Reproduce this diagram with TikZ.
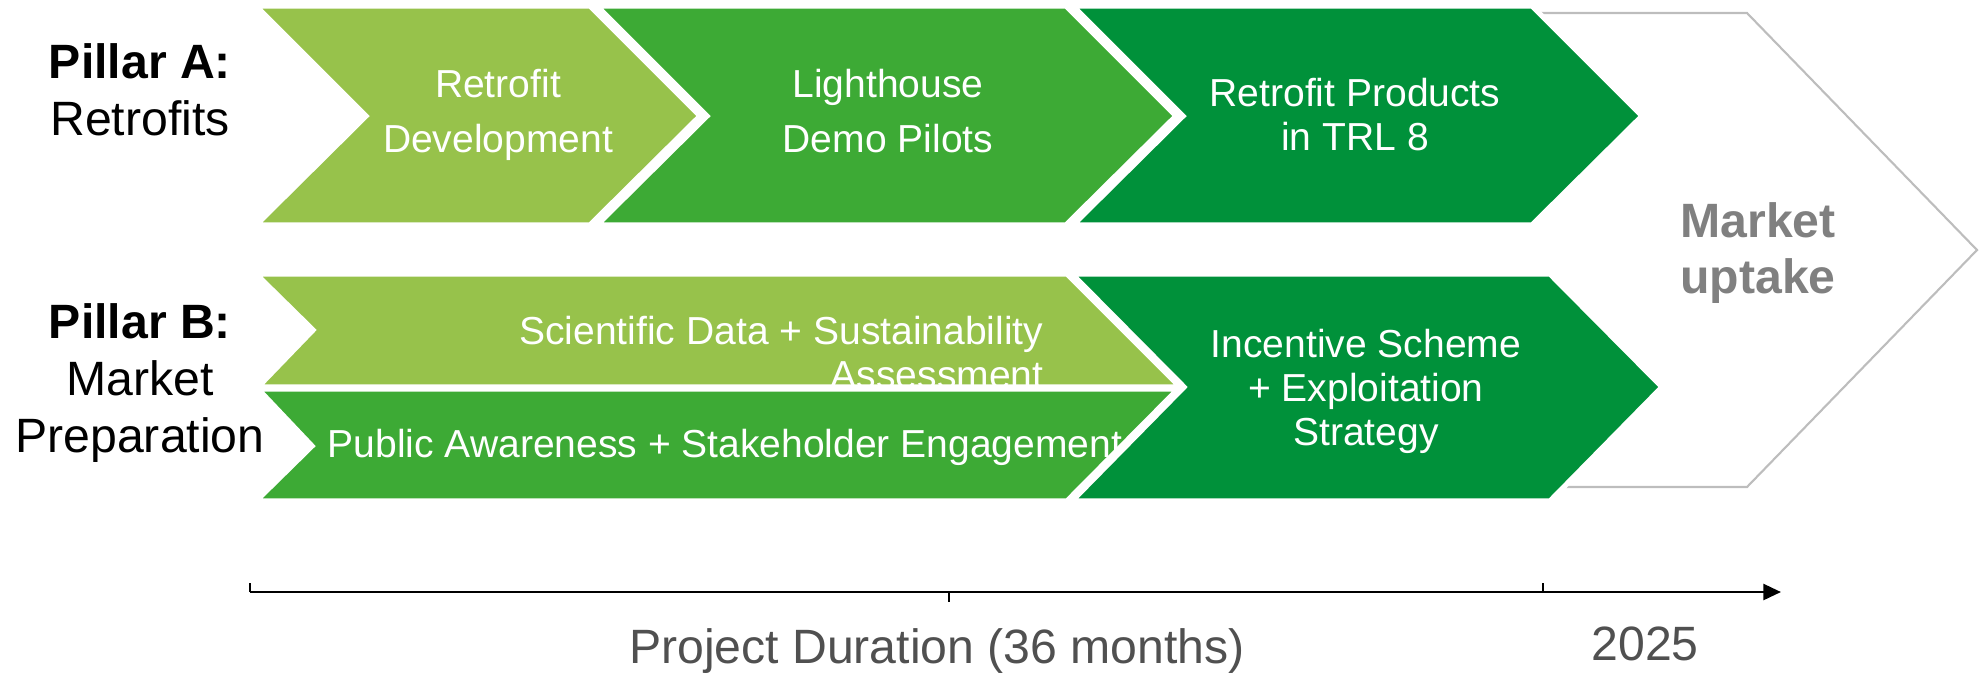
\documentclass[tikz,border=0pt]{standalone}
\usepackage{fontspec}
\setmainfont{Liberation Sans}
\usetikzlibrary{arrows.meta}

\definecolor{lightgreen}{HTML}{97C24B}
\definecolor{midgreen}{HTML}{3DAA35}
\definecolor{darkgreen}{HTML}{00913A}
\definecolor{uptakegray}{HTML}{BDBDBD}
\definecolor{uptaketext}{HTML}{808080}
\definecolor{axistext}{HTML}{505050}

\tikzset{
  stage/.style={draw=white, line width=1.5pt},
  stagetext/.style={text=white, align=center, anchor=base, inner sep=0pt, font=\fontsize{11.1}{12.5}\selectfont},
  pillar/.style={align=center, anchor=base, inner sep=0pt, font=\fontsize{13.7}{16.2}\selectfont},
  axislabel/.style={text=axistext, anchor=base, inner sep=0pt, font=\fontsize{13.7}{16}\selectfont}
}

\begin{document}
\begin{tikzpicture}[x=0.01cm, y=-0.01cm]
  \useasboundingbox (0,0) rectangle (1979,678);

  % market uptake arrow (behind the stages)
  \draw[uptakegray, line width=0.6pt] (1530,13) -- (1747,13) -- (1977,250) -- (1747,487) -- (1540,487);
  \node[text=uptaketext, align=center, anchor=base, inner sep=0pt, font=\fontsize{13.7}{15.9}\selectfont\bfseries] (uptake) at (1758,293) {Market\\uptake};

  % pillar labels
  \node[pillar] (pillarA) at (140,135) {\textbf{Pillar A:}\\Retrofits};
  \node[pillar] (pillarB) at (140,452) {\textbf{Pillar B:}\\Market\\Preparation};

  % pillar A
  \fill[lightgreen, stage] (256,6) -- (590,6) -- (700,116) -- (590,225) -- (256,225) -- (366,116) -- cycle;
  \node[stagetext, font=\fontsize{11.1}{15.4}\selectfont] (devtext) at (498,152) {Retrofit\\Development};
  \fill[midgreen, stage] (597,6) -- (1066,6) -- (1176,116) -- (1066,225) -- (597,225) -- (707,116) -- cycle;
  \node[stagetext, font=\fontsize{11.1}{15.4}\selectfont] (pilottext) at (888,152) {Lighthouse\\Demo Pilots};
  \fill[darkgreen, stage] (1073,6) -- (1532,6) -- (1642,116) -- (1532,225) -- (1073,225) -- (1183,116) -- cycle;
  \node[stagetext] (trltext) at (1355,150) {Retrofit Products\\in TRL 8};

  % pillar B
  \fill[lightgreen, stage] (256,274) -- (1067,274) -- (1180,387) -- (258,387) -- (313,330) -- cycle;
  \node[stagetext, align=right, anchor=base east] (sciencetext) at (1044,388) {Scientific Data + Sustainability\\Assessment};
  \fill[midgreen, stage] (258,389) -- (1178,389) -- (1067,501) -- (256,501) -- (312,446) -- cycle;
  \node[stagetext, anchor=base west] (publictext) at (327,457) {Public Awareness + Stakeholder Engagement};
  \fill[darkgreen, stage] (1072,274) -- (1550,274) -- (1662,387) -- (1550,501) -- (1072,501) -- (1184,387) -- cycle;
  \node[stagetext] (incentivetext) at (1366,445) {Incentive Scheme\\+ Exploitation\\Strategy};

  % time axis
  \coordinate (axisstart) at (250,592);
  \coordinate (projectend) at (1543,592);
  \coordinate (axisend) at (1781,592);
  \draw[line width=0.8pt, -{Triangle[length=5pt,width=4.5pt]}] (axisstart) -- (axisend);
  \foreach \x/\d in {250/-9, 949/10, 1543/-9}
  {
  \draw[line width=0.5pt] (\x,592) -- (\x,592+\d);
  }
  \node[axislabel] (duration) at (937,663) {Project Duration (36 months)};
  \node[axislabel] (year) at (1645,660) {2025};

\end{tikzpicture}
\end{document}
